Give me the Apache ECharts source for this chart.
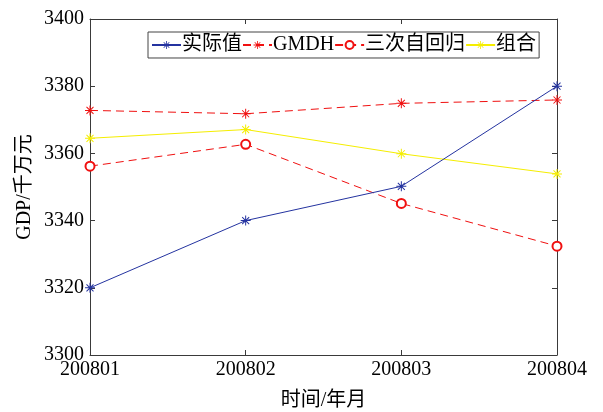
<!DOCTYPE html>
<html>
<head>
<meta charset="utf-8">
<script src="https://cdn.jsdelivr.net/npm/echarts@6/dist/echarts.min.js"></script>
<style>html,body{margin:0;padding:0;background:#fff;}#c{width:603px;height:412px;}</style>
</head>
<body>
<div id="c"></div>
<script>
const categories = ['200801', '200802', '200803', '200804'];
const actual = [3320, 3340, 3350.2, 3380];
const gmdh = [3372.8, 3371.8, 3374.9, 3375.9];
const ar3 = [3356.2, 3362.7, 3345.1, 3332.4];
const combo = [3364.5, 3367.1, 3359.9, 3353.9];
const seriesNames = ['实际值', 'GMDH', '三次自回归', '组合'];
const yTicks = { min: 3300, max: 3400, interval: 20 };

const STAR = 'path://M0,9 L20,9 L20,11 L0,11 Z M9,0 L11,0 L11,20 L9,20 Z M3.7,2.3 L17.7,16.3 L16.3,17.7 L2.3,3.7 Z M16.3,2.3 L17.7,3.7 L3.7,17.7 L2.3,16.3 Z';
const FONT = '"Liberation Serif", "Noto Sans CJK SC", serif';
const AX = '#3a3a3a';

const chart = echarts.init(document.getElementById('c'), null, { renderer: 'canvas' });

function mkSeries(name, data, color, symbol, size, dashed, z) {
  return {
    name: name, type: 'line', data: data, xAxisIndex: 0, yAxisIndex: 0,
    symbol: symbol, symbolSize: size, showSymbol: true, z: z,
    lineStyle: { color: color, width: 1, type: dashed ? [8, 5] : 'solid' },
    itemStyle: { color: color, borderColor: color, borderWidth: symbol === 'emptyCircle' ? 1 : 0 },
    emphasis: { disabled: true },
    animation: false
  };
}

chart.setOption({
  backgroundColor: '#fff',
  animation: false,
  grid: { left: 90, right: 46, top: 19, bottom: 57, containLabel: false, outerBoundsMode: 'none' },
  legend: {
    left: 148, top: 32,
    padding: [3, 3, 3, 3],
    itemGap: 0, itemWidth: 29, itemHeight: 10,
    borderColor: '#444', borderWidth: 1, backgroundColor: '#fff',
    textStyle: { fontFamily: FONT, fontSize: 20, color: '#000', padding: [0, 0, 0, -4] },
    data: seriesNames
  },
  xAxis: [{
    type: 'category', data: categories, boundaryGap: false, position: 'bottom',
    axisLine: { onZero: false, lineStyle: { color: AX, width: 1 } },
    axisTick: { inside: true, length: 5, lineStyle: { color: AX } },
    axisLabel: { fontFamily: FONT, fontSize: 20, color: '#000', margin: 5 },
    splitLine: { show: false },
    name: '时间/年月', nameLocation: 'middle', nameGap: 36, nameMoveOverlap: false,
    nameTextStyle: { fontFamily: FONT, fontSize: 20, color: '#000' }
  }, {
    type: 'category', data: categories, boundaryGap: false, position: 'top',
    axisLine: { onZero: false, lineStyle: { color: AX, width: 1 } },
    axisTick: { inside: true, length: 5, lineStyle: { color: AX } },
    axisLabel: { show: false }, splitLine: { show: false }
  }],
  yAxis: [{
    type: 'value', min: yTicks.min, max: yTicks.max, interval: yTicks.interval, position: 'left',
    axisLine: { show: true, onZero: false, lineStyle: { color: AX, width: 1 } },
    axisTick: { show: true, inside: true, length: 5, lineStyle: { color: AX } },
    axisLabel: { fontFamily: FONT, fontSize: 20, color: '#000', margin: 6, formatter: function (v) { return String(v); } },
    splitLine: { show: false },
    name: 'GDP/千万元', nameLocation: 'middle', nameGap: 55, nameMoveOverlap: false,
    nameTextStyle: { fontFamily: FONT, fontSize: 20, color: '#000' }
  }, {
    type: 'value', min: yTicks.min, max: yTicks.max, interval: yTicks.interval, position: 'right',
    axisLine: { show: true, onZero: false, lineStyle: { color: AX, width: 1 } },
    axisTick: { show: true, inside: true, length: 5, lineStyle: { color: AX } },
    axisLabel: { show: false }, splitLine: { show: false }
  }],
  series: [
    mkSeries(seriesNames[0], actual, '#2433a0', STAR, 10, false, 5),
    mkSeries(seriesNames[1], gmdh, '#f01010', STAR, 10, true, 4),
    mkSeries(seriesNames[2], ar3, '#f01010', 'emptyCircle', 9, true, 3),
    mkSeries(seriesNames[3], combo, '#f5ee00', STAR, 10, false, 2)
  ]
});
</script>
</body>
</html>
